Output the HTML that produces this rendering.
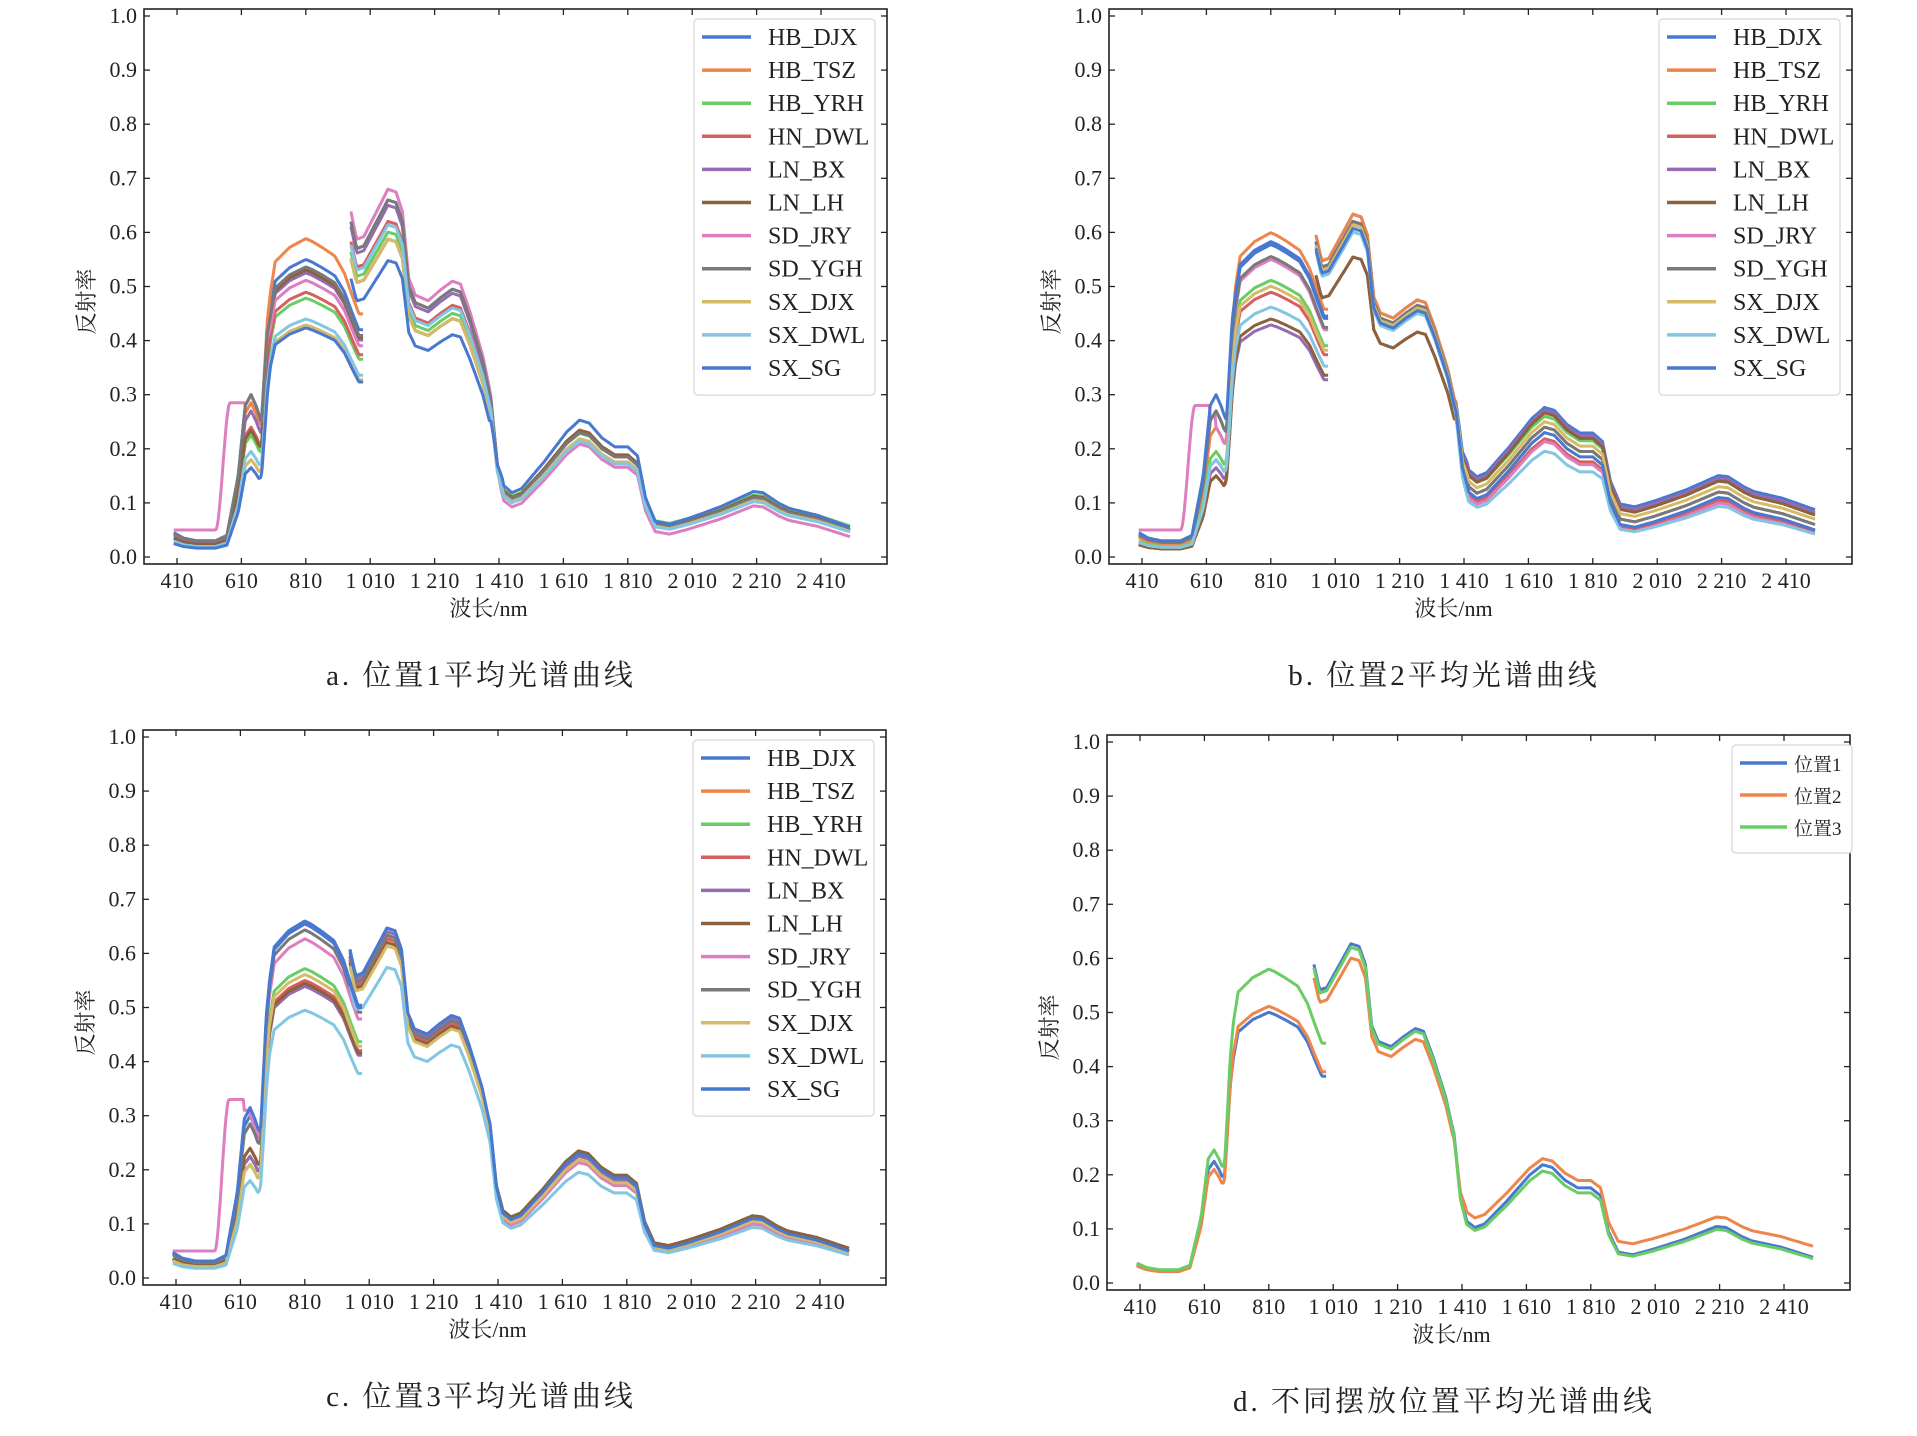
<!DOCTYPE html>
<html><head><meta charset="utf-8">
<style>
html,body{margin:0;padding:0;background:#fff;}
svg{display:block;}
text{font-family:"Liberation Serif","Noto Serif CJK SC",serif;fill:#222;}
</style></head>
<body>
<svg id="s" width="1917" height="1436" xmlns="http://www.w3.org/2000/svg"></svg>
<script>
var S=document.getElementById('s');var out='';
var C=['#4878d0','#ee854a','#6acc64','#d65f5f','#956cb4','#8c613c','#dc7ec0','#797979','#d5bb67','#82c6e2','#4878d0'];
var N=['HB_DJX','HB_TSZ','HB_YRH','HN_DWL','LN_BX','LN_LH','SD_JRY','SD_YGH','SX_DJX','SX_DWL','SX_SG'];
var B1=[[400,.045],[430,.035],[470,.03],[530,.03],[565,.04],[600,.15],[622,.28],[640,.30],[655,.28],[672,.25],[690,.42],[715,.51],[760,.535],[810,.55],[830,.545],[860,.535],[900,.52],[930,.49],[955,.45],[975,.42],[988,.42]];
var B2=[[950,.62],[968,.57],[990,.575],[1030,.62],[1065,.66],[1090,.655],[1110,.62],[1130,.5],[1150,.47],[1190,.46],[1230,.48],[1265,.495],[1290,.49],[1320,.44],[1360,.36],[1385,.29],[1405,.17],[1425,.12],[1450,.108],[1480,.115],[1550,.16],[1620,.21],[1660,.23],[1690,.225],[1730,.2],[1770,.185],[1810,.185],[1840,.17],[1865,.1],[1895,.06],[1940,.055],[2000,.065],[2100,.085],[2200,.11],[2230,.108],[2280,.09],[2310,.082],[2400,.07],[2500,.05]];
function interp(B,w){for(var i=1;i<B.length;i++){if(w<=B[i][0]){var a=B[i-1],b=B[i];return a[1]+(b[1]-a[1])*(w-a[0])/(b[0]-a[0]);}}return B[B.length-1][1];}
function sm(t){t=Math.max(0,Math.min(1,t));return t*t*(3-2*t);}
function panel(ox,oy,cap,capx,series,leg){
 var W=743,H=555,y0=oy+H-7,ys=H-14;
 function X(w){return ox+33+(w-410)*64.4/200;}
 function Y(v){return y0-v*ys;}
 out+='<rect x="'+ox+'" y="'+oy+'" width="'+W+'" height="'+H+'" fill="none" stroke="#222" stroke-width="1.6"/>';
 for(var i=0;i<=10;i++){var y=Y(i/10);out+='<line x1="'+ox+'" y1="'+y+'" x2="'+(ox+6)+'" y2="'+y+'" stroke="#222" stroke-width="1.3"/><line x1="'+(ox+W)+'" y1="'+y+'" x2="'+(ox+W-6)+'" y2="'+y+'" stroke="#222" stroke-width="1.3"/>';
  out+='<text x="'+(ox-7)+'" y="'+(y+7)+'" font-size="22" text-anchor="end">'+(i/10).toFixed(1)+'</text>';}
 for(var i=0;i<=10;i++){var w=410+200*i,x=X(w);out+='<line x1="'+x+'" y1="'+(oy+H)+'" x2="'+x+'" y2="'+(oy+H-6)+'" stroke="#222" stroke-width="1.3"/><line x1="'+x+'" y1="'+oy+'" x2="'+x+'" y2="'+(oy+6)+'" stroke="#222" stroke-width="1.3"/>';
  var l=w>=1000?(Math.floor(w/1000)+' '+String(w%1000).padStart(3,'0')):String(w);
  out+='<text x="'+x+'" y="'+(oy+H+24)+'" font-size="22" text-anchor="middle">'+l+'</text>';}
 out+='<text x="'+(ox+W/2-27)+'" y="'+(oy+H+52)+'" font-size="22" text-anchor="middle">波长/nm</text>';
 out+='<text transform="translate('+(ox-50)+','+(oy+H/2+15)+') rotate(-90)" font-size="22" text-anchor="middle">反射率</text>';
 out+='<text x="'+capx+'" y="'+(oy+676)+'" font-size="29" text-anchor="middle" letter-spacing="3">'+cap+'</text>';
 series.forEach(function(p,idx){
  var k=p[0],kv=p[1],k2=p[2],kt=p[3],off=p[4],bump=p[5]||0,col=p[6];
  var d='';
  for(var w=400;w<=988;w+=3){var b=interp(B1,w);var f=w<665?kv:(w>700?k:kv+(k-kv)*(w-665)/35);var v=b*f;
   if(bump){var t=w<620?sm((w-530)/45):Math.max(0,1-(w-620)/25);v=Math.max(v,0.05+(bump-0.01)*t);if(w>=600&&w<640)v=Math.max(v,0.05+(bump-0.03));}
   d+=(w==400?'M':'L')+X(w).toFixed(1)+','+Y(v).toFixed(1);}
  var d2='';
  for(var w=950;w<=2500;w+=5){var b=interp(B2,w);var v;if(w<1380)v=b*k2;else if(w>1420)v=b*kt+off;else{var t=(w-1380)/40;v=b*(k2*(1-t)+kt*t)+off*t;}
   d2+=(w==950?'M':'L')+X(w).toFixed(1)+','+Y(v).toFixed(1);}
  out+='<path d="'+d+'" fill="none" stroke="'+col+'" stroke-width="3" stroke-linejoin="round"/><path d="'+d2+'" fill="none" stroke="'+col+'" stroke-width="3" stroke-linejoin="round"/>';
 });
 if(leg){var lx=ox+W-193+leg.dx,ly=oy+10,n=leg.names.length,st=leg.step,fs=leg.fs;
  out+='<rect x="'+lx+'" y="'+ly+'" width="'+leg.w+'" height="'+(n*st+12)+'" rx="4" fill="#fff" stroke="#ddd" stroke-width="1.5"/>';
  leg.names.forEach(function(nm,i){var y=ly+18+i*st;out+='<line x1="'+(lx+8)+'" y1="'+y+'" x2="'+(lx+leg.ll)+'" y2="'+y+'" stroke="'+leg.cols[i]+'" stroke-width="3.5"/><text x="'+(lx+leg.tx)+'" y="'+(y+8)+'" font-size="'+fs+'">'+nm+'</text>';});}
}
function mk(arr){return arr.map(function(p,i){p=p.slice();p[6]=C[i];return p;});}
var A=mk([[1,1,1,1,0],[1.07,.95,.89,1,0],[.87,.75,.91,.95,.01],[.89,.8,.94,1,0],[.955,.9,.985,1,0],[.965,.78,.89,1.02,0],[.93,1,1.03,.95,-.01,.245],[.975,1,1,1,0],[.78,.6,.89,.95,0],[.8,.65,.93,.93,0],[.77,.55,.83,1.1,0]]);
var Bp=mk([[1.05,.9,.96,1.05,.035],[1.09,.8,.96,1,.01],[.93,.65,.93,1,.03],[.89,.5,.94,.95,0],[.78,.55,.84,1.05,.03],[.8,.5,.84,1.05,.025],[1.0,.8,.93,.95,-.005,.24],[1.01,.9,.94,1,.01],[.91,.6,.93,1,.02],[.84,.6,.91,.85,0],[1.06,1,.92,1,0]]);
var Cp=mk([[1.2,1,.98,1.02,0],[1.0,.8,.95,.98,0],[1.04,.7,.96,1,.005],[1.0,.75,.95,.98,0],[.98,.75,.97,.98,0],[.99,.8,.94,1,.005],[1.14,1,.96,.95,-.005,.29],[1.17,.95,.96,.95,0],[1.02,.7,.93,.95,0],[.9,.6,.87,.85,0],[1.19,1.05,.98,1,0]]);
var D=[[.91,.75,.95,.95,0],[.93,.7,.91,.9,.023],[1.055,.82,.94,.9,0]].map(function(p,i){p[6]=C[i];return p;});
var L11={names:N,cols:C,dx:0,w:181,step:33.1,fs:24,ll:57,tx:74};
panel(144,9,'a. 位置1平均光谱曲线',481,A,L11);
panel(1109,9,'b. 位置2平均光谱曲线',1444,Bp,L11);
panel(143,730,'c. 位置3平均光谱曲线',481,Cp,L11);
panel(1107,735,'d. 不同摆放位置平均光谱曲线',1444,D,{names:['位置1','位置2','位置3'],cols:C.slice(0,3),dx:75,w:120,step:32,fs:19,ll:55,tx:62});
S.innerHTML=out;
</script>
</body></html>
